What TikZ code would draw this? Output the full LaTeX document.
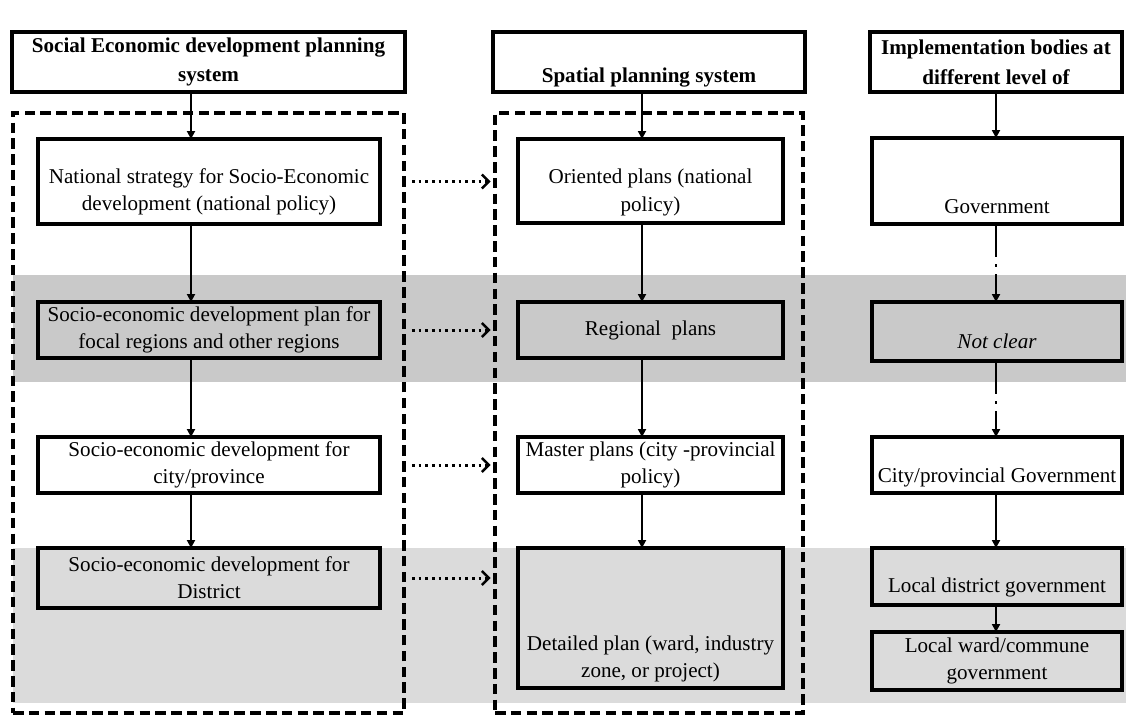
\documentclass[tikz,border=0pt]{standalone}
\usepackage{fontspec}
\setmainfont{Liberation Serif}
\usetikzlibrary{positioning,arrows.meta}

\def\px{0.02cm}
\tikzset{
  frame/.style={draw, line width=2.3pt, inner sep=0pt, outer sep=0pt},
  txt/.style={align=center, inner sep=0pt, font=\fontsize{12}{15.5}\selectfont},
  head/.style={align=center, font=\fontsize{12}{17}\selectfont\bfseries},
  zone/.style={draw, line width=2pt, dash pattern=on 6pt off 3pt, inner sep=0pt},
  down/.style={-{Triangle[length=4.5pt,width=4.5pt]}, line width=1.1pt},
  broken/.style={down, dash pattern=on 19pt off 4pt on 1.7pt off 4pt on 40pt},
  link/.style={line width=1.7pt, dash pattern=on 1.5pt off 2.3pt, shorten <=3.5pt, shorten >=1.5pt,
    -{Straight Barb[length=4pt,width=8pt,line width=1.4pt]}}
}

\begin{document}
\begin{tikzpicture}[x=\px, y=-\px]
\useasboundingbox (0,0) rectangle (1126,718);
% grey bands
\fill[black!21] (13,275) rectangle (1126,382);
\fill[black!14] (13,548) rectangle (1126,703);

% headers
\node[frame, head, minimum width=393*\px, minimum height=60*\px] (H1) at (208.5,62) {Social Economic development planning\\system};
\node[frame, minimum width=312*\px, minimum height=60*\px] (H2) at (649,62) {};
\node[head, inner sep=0pt] (H2t) at ([yshift=-9pt]H2.center) {Spatial planning system};
\node[frame, head, minimum width=252*\px, minimum height=60*\px] (H3) at (996,62) {Implementation bodies at\\different level of};

% dashed groups
\node[zone, minimum width=391*\px, minimum height=600*\px] (LZ) at (208.5,413) {};
\node[zone, minimum width=308*\px, minimum height=600*\px] (MZ) at (649,413) {};

% socio-economic column
\node[frame, minimum width=342*\px, minimum height=85*\px] (L1) at (209,181.5) {};
\node[txt] (L1t) at ([yshift=-6pt]L1.center) {National strategy for Socio-Economic\\development (national policy)};
\node[frame, txt, minimum width=342*\px, minimum height=56*\px] (L2) at (209,330) {Socio-economic development plan for\\focal regions and other regions};
\node[frame, txt, minimum width=342*\px, minimum height=56*\px] (L3) at (209,465) {Socio-economic development for\\city/province};
\node[frame, txt, minimum width=342*\px, minimum height=60*\px] (L4) at (209,578) {Socio-economic development for\\District};

% spatial column
\node[frame, minimum width=265*\px, minimum height=84*\px] (M1) at (650.5,181) {};
\node[txt] (M1t) at ([yshift=-6.5pt]M1.center) {Oriented plans (national\\policy)};
\node[frame, txt, minimum width=265*\px, minimum height=56*\px] (M2) at (650.5,330) {Regional\ \ plans};
\node[frame, txt, minimum width=265*\px, minimum height=56*\px] (M3) at (650.5,465) {Master plans (city -provincial\\policy)};
\node[frame, minimum width=265*\px, minimum height=140*\px] (M4) at (650.5,618) {};
\node[txt] (M4t) at ([yshift=-23.5pt]M4.center) {Detailed plan (ward, industry\\zone, or project)};

% implementation column
\node[frame, minimum width=250*\px, minimum height=86*\px] (R1) at (997,181) {};
\node[txt] (R1t) at ([yshift=-14.5pt]R1.center) {Government};
\node[frame, minimum width=250*\px, minimum height=59*\px] (R2) at (997,331.5) {};
\node[txt] (R2t) at ([yshift=-5.5pt]R2.center) {\itshape Not clear};
\node[frame, minimum width=250*\px, minimum height=56*\px] (R3) at (997,465) {};
\node[txt] (R3t) at ([yshift=-7pt]R3.center) {City/provincial Government};
\node[frame, minimum width=250*\px, minimum height=57*\px] (R4) at (997,576.5) {};
\node[txt] (R4t) at ([yshift=-6pt]R4.center) {Local district government};
\node[frame, txt, minimum width=250*\px, minimum height=58*\px] (R5) at (997,661) {Local ward/commune\\government};

% arrows
\coordinate (lx) at (191,0);
\coordinate (mx) at (642,0);
\coordinate (rx) at (996,0);
\foreach \a/\b in {H1/L1,L1/L2,L2/L3,L3/L4}
  \draw[down] (\a.south -| lx) -- (\b.north -| lx);
\foreach \a/\b in {H2/M1,M1/M2,M2/M3,M3/M4}
  \draw[down] (\a.south -| mx) -- (\b.north -| mx);
\foreach \a/\b in {H3/R1,R3/R4,R4/R5}
  \draw[down] (\a.south -| rx) -- (\b.north -| rx);
\draw[broken] (R1.south -| rx) -- (R2.north -| rx);
\draw[broken] (R2.south -| rx) -- (R3.north -| rx);
\foreach \b in {L1,L2,L3,L4}
  \draw[link] (LZ.east |- \b) -- (MZ.west |- \b);
\end{tikzpicture}
\end{document}
